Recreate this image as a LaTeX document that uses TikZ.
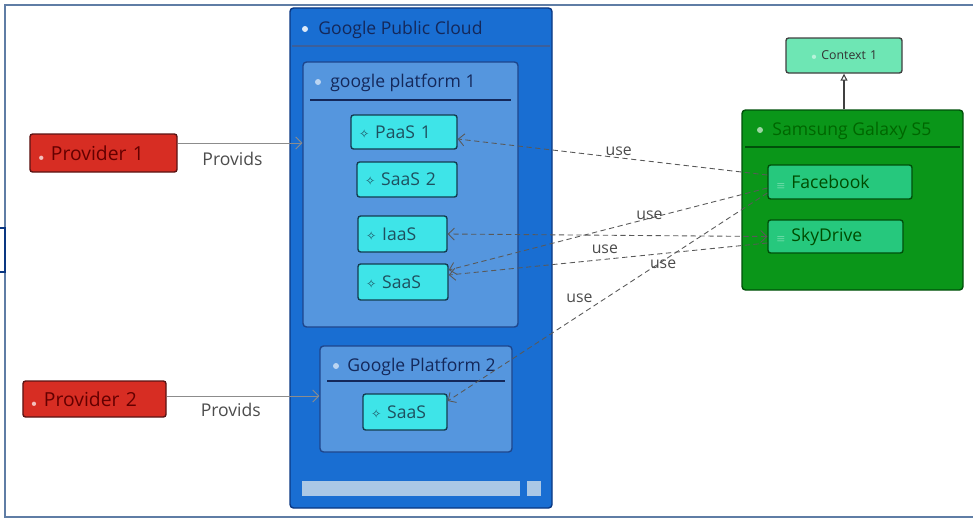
\documentclass[tikz,border=0pt]{standalone}
\usepackage{fontspec}
\setmainfont{Open Sans}
\newfontfamily\symfont{DejaVu Sans}
\usetikzlibrary{arrows.meta,positioning}

\definecolor{framecol}{RGB}{95,125,165}
\definecolor{cloudfill}{RGB}{25,110,210}
\definecolor{cloudline}{RGB}{10,55,130}
\definecolor{platfill}{RGB}{85,150,222}
\definecolor{platline}{RGB}{30,70,140}
\definecolor{svcfill}{RGB}{62,228,232}
\definecolor{svcline}{RGB}{20,60,80}
\definecolor{svctext}{RGB}{30,80,95}
\definecolor{provfill}{RGB}{215,45,35}
\definecolor{provline}{RGB}{90,20,20}
\definecolor{provtext}{RGB}{100,0,0}
\definecolor{devfill}{RGB}{10,150,25}
\definecolor{devline}{RGB}{0,80,10}
\definecolor{appfill}{RGB}{38,200,125}
\definecolor{ctxfill}{RGB}{110,230,180}
\definecolor{titletext}{RGB}{20,40,90}
\definecolor{scrollcol}{RGB}{170,200,230}

\tikzset{
	box/.style={draw, rounded corners=1.5pt, line width=0.8pt, align=left, inner xsep=1.6mm, inner ysep=0pt, font=\fontsize{10}{12}\selectfont},
	svc/.style={box, fill=svcfill, draw=svcline, text=svctext},
	provider/.style={box, fill=provfill, draw=provline, text=provtext, font=\fontsize{11}{13}\selectfont},
	app/.style={box, fill=appfill, draw=devline, text=black!70!green},
	ctx/.style={box, fill=ctxfill, draw=black!75, text=black!80, font=\fontsize{7}{8}\selectfont, align=center},
	container/.style={draw, rounded corners=2pt, line width=0.8pt, inner sep=0pt},
	ctitle/.style={anchor=west, inner sep=0pt, text=titletext, font=\fontsize{10}{12}\selectfont},
	icon/.style={circle, inner sep=0pt, minimum size=1.2mm},
	lbl/.style={inner sep=1pt, text=black!70, font=\fontsize{9}{10}\selectfont},
	uses/.style={densely dashed, line width=0.5pt, draw=black!65, -{Straight Barb[length=1.2mm,width=2.4mm]}},
	provides/.style={line width=0.5pt, draw=black!45, -{Straight Barb[length=1.2mm,width=2.4mm]}}
}
\newcommand{\svcicon}{{\symfont\fontsize{7}{8}\selectfont ✧}\ }

\begin{document}
\begin{tikzpicture}[x=0.2mm,y=-0.2mm]
	\useasboundingbox (0,0) rectangle (973,520);
	\draw[framecol, line width=1.4pt] (995,5) -- (5,5) -- (5,517) -- (995,517);
	\draw[cloudline, line width=1pt] (-3,228) rectangle (5,272);

	\node[container, fill=cloudfill, draw=cloudline, minimum width=52.4mm, minimum height=100mm] (gpc) at (421,258) {};
	\node[icon, fill=white!85!cloudfill] at (305,29) {};
	\node[ctitle] (gpct) at (318,30) {Google Public Cloud};
	\draw[cloudline!80, line width=0.6pt] (292,46) -- (550,46);

	\node[container, fill=platfill, draw=platline, minimum width=43mm, minimum height=53mm] (gp1) at (410.5,194.5) {};
	\node[icon, fill=white!60!platfill] at (318,82) {};
	\node[ctitle] (gp1t) at (330,83) {google platform 1};
	\draw[titletext, line width=0.8pt] (310,100) -- (511,100);

	\node[container, fill=platfill, draw=platline, minimum width=38.4mm, minimum height=21.2mm] (gp2) at (416,399) {};
	\node[icon, fill=white!60!platfill] at (336,366) {};
	\node[ctitle] (gp2t) at (347,367) {Google Platform 2};
	\draw[titletext, line width=0.8pt] (327,381) -- (505,381);

	\node[svc, text width=18mm, minimum height=6.8mm] (paas) at (404,132) {\svcicon PaaS 1};
	\node[svc, text width=16.8mm, minimum height=7mm] (saas2) at (407,179.5) {\svcicon SaaS 2};
	\node[svc, text width=14.6mm, minimum height=7.2mm] (iaas) at (402.5,234) {\svcicon IaaS};
	\node[svc, text width=14.8mm, minimum height=7.2mm] (saas) at (403,282) {\svcicon SaaS};
	\node[svc, text width=13.6mm, minimum height=7.2mm] (saasb) at (405,412) {\svcicon SaaS};

	\fill[scrollcol] (302,481) rectangle (520,496);
	\fill[scrollcol] (527,481) rectangle (541,496);

	\node[provider, text width=26.2mm, minimum height=7.6mm] (prov1) at (103.5,153) {{\color{white!70!provfill}\tiny$\bullet$}\ Provider 1};
	\node[provider, text width=25.4mm, minimum height=7.2mm] (prov2) at (94.5,399) {{\color{white!70!provfill}\tiny$\bullet$}\ Provider 2};

	\node[container, fill=devfill, draw=devline, minimum width=44.2mm, minimum height=36mm] (s5) at (852.5,200) {};
	\node[icon, fill=white!60!devfill] at (760,130) {};
	\node[ctitle, text=black!60!green] (s5t) at (772,131) {Samsung Galaxy S5};
	\draw[devline, line width=0.8pt] (745,147) -- (960,147);

	\node[app, text width=25.6mm, minimum height=6.8mm] (fb) at (840,182) {{\color{white!60!appfill}\tiny$\equiv$}\ Facebook};
	\node[app, text width=23.8mm, minimum height=6.6mm] (sky) at (835.5,236.5) {{\color{white!60!appfill}\tiny$\equiv$}\ SkyDrive};
	\node[ctx, text width=20mm, minimum height=7mm] (ctx1) at (844,55.5) {{\color{white!50!ctxfill}\tiny$\bullet$}\ Context 1};

	\draw[line width=0.6pt, draw=black!75, -{Triangle[open,length=1.4mm,width=1.4mm]}] (ctx1.south |- s5.north) -- (ctx1.south);

	\draw[provides] ([yshift=2mm]prov1.east) -- ([yshift=2mm]prov1.east -| gp1.west) node[lbl, pos=0.44, below=4pt, font=\fontsize{10}{12}\selectfont] {Provids};
	\draw[provides] ([yshift=0.6mm]prov2.east) -- ([yshift=0.6mm]prov2.east -| gp2.west) node[lbl, pos=0.42, below=3pt, font=\fontsize{10}{12}\selectfont] {Provids};

	\draw[uses] ([yshift=1.4mm]fb.west) -- ([yshift=-1.4mm]paas.east) node[lbl, pos=0.48, above] {use};
	\draw[uses] ([yshift=-1.2mm]fb.west) -- ([yshift=2.4mm]saas.east) node[lbl, pos=0.37, above=-2pt] {use};
	\draw[uses, {Straight Barb[length=1.2mm,width=2.4mm]}-{Straight Barb[length=1.2mm,width=2.4mm]}] (sky.west) -- (iaas.east);
	\draw[uses] ([yshift=-1.3mm]sky.west) -- ([yshift=1.4mm]saas.east) node[lbl, pos=0.51, above=2pt] {use};
	\draw[uses] ([yshift=-2.2mm]fb.west) -- ([yshift=2.2mm]saasb.east) node[lbl, pos=0.37, above right=-1pt] {use} node[lbl, pos=0.54, above left=0pt] {use};
\end{tikzpicture}
\end{document}
